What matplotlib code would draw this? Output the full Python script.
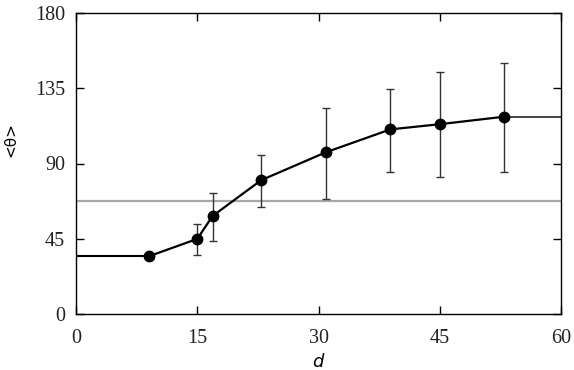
import matplotlib
matplotlib.use("Agg")
import matplotlib.pyplot as plt

# data
d_vals = [9.0, 15.0, 16.9, 22.9, 30.9, 38.9, 45.0, 53.0]
theta_mean = [34.5, 44.9, 58.6, 80.0, 96.7, 110.4, 113.5, 118.0]
err_upper = [34.5, 53.6, 72.2, 94.9, 123.2, 134.6, 144.9, 150.3]
err_lower = [34.5, 35.1, 43.8, 64.2, 68.8, 84.9, 82.1, 84.9]
reference_level = 67.6
x_ticks = [0, 15, 30, 45, 60]
y_ticks = [0, 45, 90, 135, 180]

fig = plt.figure(figsize=(5.74, 3.70), dpi=100)
ax = fig.add_axes([76/574, 56/370, 485/574, 301/370])

ax.axhline(reference_level, color="#a8a8a8", lw=1.6, zorder=1)

# flat extensions to the axis limits
ax.plot([0, d_vals[0]], [theta_mean[0], theta_mean[0]], color="black", lw=1.5, zorder=2)
ax.plot([d_vals[-1], 60], [theta_mean[-1], theta_mean[-1]], color="#222222", lw=1.2, zorder=2)

idx = list(range(1, len(d_vals)))
ax.errorbar([d_vals[i] for i in idx], [theta_mean[i] for i in idx],
            yerr=[[theta_mean[i] - err_lower[i] for i in idx],
                  [err_upper[i] - theta_mean[i] for i in idx]],
            fmt="none", ecolor="#333333", elinewidth=1.0, capsize=2.8, capthick=1.0, zorder=2)
ax.plot(d_vals, theta_mean, color="black", lw=1.6, marker="o", ms=7.5, zorder=3)

ax.set_xlim(0, 60)
ax.set_ylim(0, 180)
ax.set_xticks(x_ticks)
ax.set_yticks(y_ticks)
ax.tick_params(direction="in", length=6, width=1, top=True, right=True,
               labelsize=14.5, colors="black")
ax.tick_params(axis="x", pad=11)
ax.tick_params(axis="y", pad=8)
for lab in ax.get_xticklabels() + ax.get_yticklabels():
    lab.set_fontfamily("Liberation Serif")
    lab.set_color("#222222")
for s in ax.spines.values():
    s.set_linewidth(1.0)

ax.set_xlabel("d", fontsize=13, style="italic", family="DejaVu Sans")
ax.xaxis.set_label_coords(0.499, -0.13)
ax.set_ylabel("<θ>", fontsize=11, family="DejaVu Sans")
ax.yaxis.set_label_coords(-0.118, 0.578)

fig.savefig("out.png", dpi=100)
